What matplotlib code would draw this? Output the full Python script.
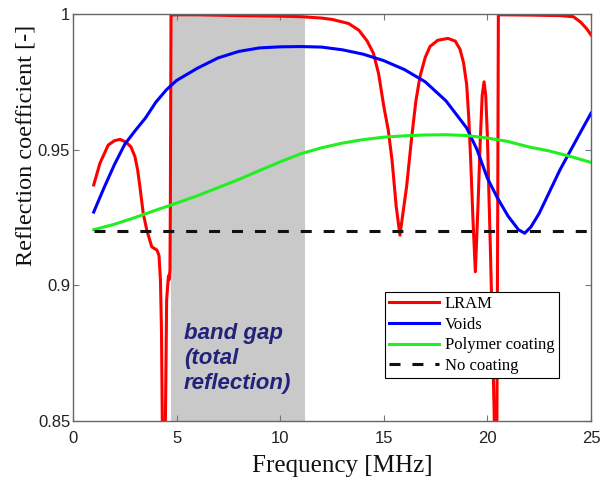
import matplotlib
matplotlib.use("Agg")
import matplotlib.pyplot as plt

# Frequency axis [MHz] and reflection coefficient of each configuration
lram_f = [1.0, 1.3, 1.7, 2.0, 2.27, 2.55, 2.8, 2.99, 3.12, 3.23, 3.39, 3.56, 3.8, 3.96,
          4.05, 4.15, 4.22, 4.27, 4.31, 4.38, 4.46, 4.52, 4.58, 4.61, 4.63, 4.66, 4.68,
          4.70, 4.73,
          5.0, 6.0, 8.0, 10.0, 11.0, 12.0, 12.5, 13.3, 13.8, 14.2, 14.5, 14.75, 15.0,
          15.22, 15.4, 15.6, 15.78, 15.95, 16.1, 16.35, 16.55, 16.75, 17.0, 17.23, 17.6,
          18.1, 18.45, 18.68, 18.85, 19.0, 19.1, 19.2, 19.3, 19.42, 19.55, 19.65, 19.75,
          19.84, 19.92, 20.0, 20.08, 20.15, 20.25, 20.33, 20.40, 20.46, 20.50, 20.53,
          20.6, 22.0, 23.5, 24.15, 24.5, 24.8, 25.0]
lram_r = [0.937, 0.945, 0.9517, 0.9533, 0.9538, 0.9528, 0.951, 0.9474, 0.9425, 0.9363,
          0.9265, 0.9204, 0.9142, 0.9134, 0.9130, 0.9110, 0.902, 0.8835, 0.850, 0.80,
          0.850, 0.8946, 0.901, 0.9035, 0.902, 0.904, 0.9056, 0.9314, 0.9996,
          0.9997, 0.9997, 0.9994, 0.9992, 0.999, 0.9985, 0.998, 0.9965, 0.994, 0.990,
          0.9855, 0.978, 0.966, 0.957, 0.946, 0.929, 0.9185, 0.928, 0.9363, 0.9548,
          0.968, 0.977, 0.984, 0.988, 0.9903, 0.991, 0.990, 0.987, 0.982, 0.974, 0.962,
          0.945, 0.925, 0.905, 0.930, 0.952, 0.970, 0.975, 0.970, 0.955, 0.932, 0.912,
          0.880, 0.852, 0.80, 0.85, 0.93, 0.9996,
          0.9997, 0.9996, 0.9994, 0.999, 0.997, 0.9945, 0.9923]

voids_f = [1.0, 1.5, 2.0, 2.5, 3.0, 3.5, 4.0, 4.5, 5.0, 6.0, 7.0, 8.0, 9.0, 10.0, 11.0,
           12.0, 13.0, 14.0, 15.0, 16.0, 17.0, 18.0, 19.0, 19.5, 20.0, 20.5, 21.0, 21.5,
           21.8, 22.1, 22.5, 23.0, 23.5, 24.0, 24.5, 25.0]
voids_r = [0.927, 0.936, 0.9445, 0.952, 0.957, 0.9617, 0.9675, 0.972, 0.9755, 0.980,
           0.9838, 0.9862, 0.9875, 0.9879, 0.988, 0.9878, 0.9868, 0.9852, 0.9828, 0.9795,
           0.975, 0.968, 0.958, 0.950, 0.9395, 0.932, 0.9255, 0.9205, 0.9192, 0.9215,
           0.9265, 0.9345, 0.9425, 0.9495, 0.9565, 0.9634]

polymer_f = [1.0, 2.0, 3.0, 4.0, 5.0, 6.0, 7.0, 8.0, 9.0, 10.0, 11.0, 12.0, 13.0, 14.0,
             15.0, 16.0, 17.0, 18.0, 19.0, 20.0, 21.0, 22.0, 23.0, 24.0, 25.0]
polymer_r = [0.9205, 0.9225, 0.925, 0.9277, 0.9303, 0.933, 0.936, 0.939, 0.9423, 0.9455,
             0.9485, 0.9507, 0.9524, 0.9537, 0.9546, 0.9551, 0.9554, 0.9555, 0.9552,
             0.9543, 0.953, 0.951, 0.9495, 0.9475, 0.9453]

bare_f = [1.0, 25.0]
bare_r = [0.92, 0.92]

band_gap = [4.75, 11.2]

x_ticks = [0, 5, 10, 15, 20, 25]
y_ticks = [0.85, 0.90, 0.95, 1.0]
y_tick_labels = ["0.85", "0.9", "0.95", "1"]

serif = "Liberation Serif"
sans = "Liberation Sans"

fig = plt.figure(figsize=(6.14, 4.84), dpi=100)
ax = fig.add_axes([0.1189, 0.1302, 0.8436, 0.8409])

ax.axvspan(band_gap[0], band_gap[1], color="#c9c9c9", zorder=0, lw=0)

lw = 2.2
ax.plot(lram_f, lram_r, color="#ff0000", lw=lw, label="LRAM", zorder=2)
ax.plot(voids_f, voids_r, color="#0000ff", lw=lw, label="Voids", zorder=3)
ax.plot(polymer_f, polymer_r, color="#22ee22", lw=lw, label="Polymer coating", zorder=3)
ax.plot(bare_f, bare_r, color="#111111", lw=lw, ls=(0, (3.6, 3.9)),
        label="No coating", zorder=4)

ax.text(5.35, 0.8862, "band gap\n(total\nreflection)", fontfamily=sans,
        fontsize=16, fontweight="bold", fontstyle="italic", color="#22227a",
        ha="left", va="top", linespacing=1.27, zorder=5)

ax.set_xlim(0, 25)
ax.set_ylim(0.85, 1.0)
ax.set_xticks(x_ticks)
ax.set_yticks(y_ticks)
ax.set_yticklabels(y_tick_labels)
ax.tick_params(direction="in", length=4, width=0.8, colors="#777777",
               top=True, right=True, labelsize=12)
ax.tick_params(axis="x", pad=7)
ax.tick_params(axis="y", pad=2)
for lab in ax.get_xticklabels() + ax.get_yticklabels():
    lab.set_fontfamily(sans)
    lab.set_color("#222222")
for sp in ax.spines.values():
    sp.set_color("#666666")
    sp.set_linewidth(1.0)

ax.set_xlabel("Frequency [MHz]", fontfamily=serif, fontsize=18, color="#111111")
ax.set_ylabel("Reflection coefficient [-]", fontfamily=serif, fontsize=17.5,
              color="#111111")
ax.xaxis.set_label_coords(0.52, -0.083)
ax.yaxis.set_label_coords(-0.07, 0.678)

leg = ax.legend(loc="upper left", bbox_to_anchor=(0.627, 0.3967),
                bbox_transform=fig.transFigure, borderaxespad=0,
                prop={"family": serif, "size": 12}, fancybox=False,
                framealpha=1, edgecolor="black", handlelength=3.0,
                handletextpad=0.35, labelspacing=0.28, borderpad=0.25)
leg.get_frame().set_linewidth(0.8)

fig.savefig("out.png", dpi=100)
